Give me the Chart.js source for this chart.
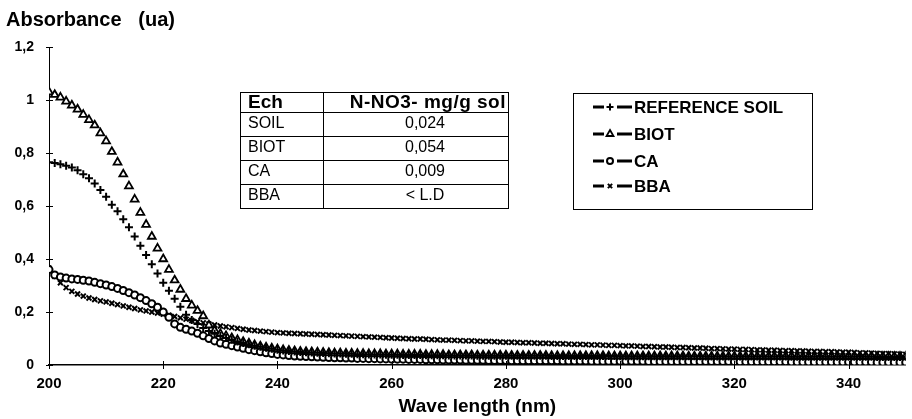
<!DOCTYPE html>
<html>
<head>
<meta charset="utf-8">
<script src="https://cdn.jsdelivr.net/npm/chart.js@4/dist/chart.umd.min.js"></script>
<style>
  html, body { margin: 0; padding: 0; background: #fff; }
</style>
</head>
<body>
<canvas id="chart" width="912" height="419"></canvas>
<script>
// wave length axis (nm), one reading per nm
var waveStart = 200;
var waveEnd = 350;
var waveStep = 20;
var absMax = 1.2;
var absStep = 0.2;

var seriesNames = ['REFERENCE SOIL', 'BIOT', 'CA', 'BBA'];

// absorbance readings 200 -> 350 nm
var refSoil = [
    0.765, 0.762, 0.758, 0.752, 0.745, 0.735, 0.72, 0.705, 0.685, 0.66,
    0.635, 0.605, 0.58, 0.55, 0.52, 0.485, 0.45, 0.415, 0.38, 0.345,
    0.31, 0.28, 0.25, 0.22, 0.19, 0.17, 0.155, 0.14, 0.128, 0.118,
    0.109, 0.102, 0.095, 0.089, 0.083, 0.078, 0.073, 0.069, 0.065, 0.061,
    0.058, 0.055, 0.053, 0.051, 0.049, 0.048, 0.047, 0.046, 0.045, 0.044,
    0.043, 0.043, 0.042, 0.042, 0.041, 0.041, 0.04, 0.04, 0.04, 0.039,
    0.039, 0.039, 0.038, 0.038, 0.038, 0.038, 0.037, 0.037, 0.037, 0.037,
    0.036, 0.036, 0.036, 0.036, 0.036, 0.035, 0.035, 0.035, 0.035, 0.035,
    0.035, 0.035, 0.035, 0.035, 0.035, 0.035, 0.035, 0.035, 0.034, 0.034,
    0.034, 0.034, 0.034, 0.034, 0.034, 0.034, 0.034, 0.034, 0.034, 0.034,
    0.033, 0.033, 0.033, 0.033, 0.033, 0.033, 0.033, 0.033, 0.033, 0.033,
    0.033, 0.033, 0.033, 0.033, 0.033, 0.032, 0.032, 0.032, 0.032, 0.032,
    0.032, 0.032, 0.032, 0.032, 0.032, 0.032, 0.032, 0.032, 0.032, 0.032,
    0.031, 0.031, 0.031, 0.031, 0.031, 0.031, 0.031, 0.031, 0.031, 0.031,
    0.031, 0.031, 0.031, 0.031, 0.031, 0.03, 0.03, 0.03, 0.03, 0.03,
    0.03
];
var biot = [
    1.03, 1.02, 1.01, 0.995, 0.98, 0.965, 0.945, 0.925, 0.905, 0.875,
    0.845, 0.805, 0.765, 0.72, 0.675, 0.625, 0.575, 0.53, 0.485, 0.44,
    0.40, 0.36, 0.32, 0.285, 0.25, 0.225, 0.205, 0.185, 0.15, 0.13,
    0.118, 0.11, 0.102, 0.095, 0.088, 0.082, 0.076, 0.071, 0.067, 0.063,
    0.06, 0.057, 0.055, 0.053, 0.051, 0.05, 0.049, 0.048, 0.047, 0.046,
    0.045, 0.045, 0.044, 0.044, 0.043, 0.043, 0.042, 0.042, 0.042, 0.041,
    0.041, 0.041, 0.04, 0.04, 0.04, 0.04, 0.039, 0.039, 0.039, 0.039,
    0.038, 0.038, 0.038, 0.038, 0.038, 0.037, 0.037, 0.037, 0.037, 0.037,
    0.037, 0.036, 0.036, 0.036, 0.036, 0.036, 0.036, 0.036, 0.035, 0.035,
    0.035, 0.035, 0.035, 0.035, 0.035, 0.035, 0.035, 0.035, 0.034, 0.034,
    0.034, 0.034, 0.034, 0.034, 0.034, 0.034, 0.034, 0.034, 0.034, 0.034,
    0.034, 0.034, 0.033, 0.033, 0.033, 0.033, 0.033, 0.033, 0.033, 0.033,
    0.033, 0.033, 0.033, 0.033, 0.033, 0.033, 0.033, 0.033, 0.033, 0.033,
    0.033, 0.033, 0.032, 0.032, 0.032, 0.032, 0.032, 0.032, 0.032, 0.032,
    0.032, 0.032, 0.032, 0.032, 0.032, 0.032, 0.032, 0.032, 0.032, 0.032,
    0.032
];
var ca = [
    0.36, 0.34, 0.332, 0.328, 0.325, 0.323, 0.32, 0.317, 0.312, 0.307,
    0.302, 0.296, 0.289, 0.281, 0.273, 0.264, 0.254, 0.243, 0.231, 0.218,
    0.2, 0.18, 0.155, 0.142, 0.135, 0.128, 0.12, 0.11, 0.1, 0.091,
    0.083, 0.078, 0.073, 0.068, 0.063, 0.058, 0.054, 0.05, 0.046, 0.043,
    0.04, 0.038, 0.036, 0.034, 0.033, 0.032, 0.031, 0.03, 0.029, 0.028,
    0.027, 0.027, 0.026, 0.026, 0.025, 0.025, 0.024, 0.024, 0.023, 0.023,
    0.022, 0.022, 0.022, 0.021, 0.021, 0.021, 0.02, 0.02, 0.02, 0.019,
    0.019, 0.019, 0.019, 0.018, 0.018, 0.018, 0.018, 0.017, 0.017, 0.017,
    0.017, 0.016, 0.016, 0.016, 0.016, 0.016, 0.016, 0.016, 0.016, 0.016,
    0.015, 0.015, 0.015, 0.015, 0.015, 0.014, 0.014, 0.014, 0.014, 0.014,
    0.014, 0.014, 0.014, 0.014, 0.014, 0.013, 0.013, 0.013, 0.013, 0.013,
    0.013, 0.013, 0.013, 0.013, 0.013, 0.013, 0.013, 0.013, 0.013, 0.013,
    0.012, 0.012, 0.012, 0.012, 0.012, 0.012, 0.012, 0.012, 0.012, 0.012,
    0.011, 0.011, 0.011, 0.011, 0.011, 0.011, 0.011, 0.011, 0.011, 0.011,
    0.011, 0.011, 0.011, 0.011, 0.011, 0.01, 0.01, 0.01, 0.01, 0.01,
    0.01
];
var bba = [
    0.365, 0.335, 0.31, 0.292, 0.278, 0.268, 0.26, 0.253, 0.247, 0.242,
    0.238, 0.233, 0.228, 0.223, 0.218, 0.213, 0.208, 0.204, 0.2, 0.196,
    0.192, 0.188, 0.183, 0.178, 0.173, 0.168, 0.163, 0.159, 0.155, 0.151,
    0.147, 0.144, 0.141, 0.138, 0.135, 0.132, 0.13, 0.128, 0.126, 0.124,
    0.122, 0.121, 0.12, 0.119, 0.118, 0.117, 0.116, 0.115, 0.114, 0.113,
    0.112, 0.111, 0.11, 0.109, 0.108, 0.107, 0.106, 0.105, 0.104, 0.103,
    0.102, 0.101, 0.1, 0.099, 0.098, 0.098, 0.097, 0.096, 0.095, 0.094,
    0.094, 0.093, 0.092, 0.091, 0.091, 0.09, 0.089, 0.089, 0.088, 0.087,
    0.086, 0.086, 0.085, 0.084, 0.084, 0.083, 0.082, 0.082, 0.081, 0.08,
    0.08, 0.079, 0.078, 0.078, 0.077, 0.076, 0.076, 0.075, 0.074, 0.074,
    0.073, 0.072, 0.072, 0.071, 0.07, 0.07, 0.069, 0.068, 0.068, 0.067,
    0.066, 0.066, 0.065, 0.064, 0.064, 0.063, 0.062, 0.062, 0.061, 0.06,
    0.06, 0.059, 0.059, 0.058, 0.057, 0.057, 0.056, 0.056, 0.055, 0.054,
    0.054, 0.053, 0.053, 0.052, 0.051, 0.051, 0.05, 0.05, 0.049, 0.048,
    0.048, 0.047, 0.046, 0.046, 0.045, 0.044, 0.043, 0.043, 0.042, 0.041,
    0.04
];

// inset table
var tableHeader = ['Ech', 'N-NO3- mg/g sol'];
var tableSamples = ['SOIL', 'BIOT', 'CA', 'BBA'];
var tableValues = ['0,024', '0,054', '0,009', '< L.D'];

var FONT = '"Liberation Sans", Arial, sans-serif';

function toPoints(values) {
    var pts = [];
    for (var i = 0; i < values.length; i++) {
        pts.push({ x: waveStart + i, y: values[i] });
    }
    return pts;
}

function commaNum(v) {
    return String(Math.round(v * 10) / 10).replace('.', ',');
}

var markers = [
    { pointStyle: 'cross', radius: 4, borderWidth: 2, backgroundColor: '#000' },
    { pointStyle: 'triangle', radius: 4.5, borderWidth: 1.8, backgroundColor: '#fff' },
    { pointStyle: 'circle', radius: 3.5, borderWidth: 2, backgroundColor: '#fff' },
    { pointStyle: 'crossRot', radius: 3.5, borderWidth: 2, backgroundColor: '#000' }
];
var seriesValues = [refSoil, biot, ca, bba];

var datasets = seriesNames.map(function (name, i) {
    return {
        label: name,
        data: toPoints(seriesValues[i]),
        showLine: false,
        pointStyle: markers[i].pointStyle,
        pointRadius: markers[i].radius,
        pointBorderWidth: markers[i].borderWidth,
        pointBackgroundColor: markers[i].backgroundColor,
        pointBorderColor: '#000'
    };
});

var extras = {
    id: 'extras',
    afterDraw: function (chart) {
        var ctx = chart.ctx;
        var xs = chart.scales.x, ys = chart.scales.y;
        ctx.save();
        ctx.strokeStyle = '#000';
        ctx.fillStyle = '#000';
        ctx.lineWidth = 1;

        // tick marks crossing the axes
        ctx.beginPath();
        xs.ticks.forEach(function (t) {
            var px = Math.round(xs.getPixelForValue(t.value)) + 0.5;
            ctx.moveTo(px, ys.bottom - 4);
            ctx.lineTo(px, ys.bottom + 4);
        });
        ys.ticks.forEach(function (t) {
            var py = Math.round(ys.getPixelForValue(t.value)) + 0.5;
            ctx.moveTo(xs.left - 3, py);
            ctx.lineTo(xs.left + 4, py);
        });
        ctx.stroke();

        // axis titles
        ctx.font = 'bold 20px ' + FONT;
        ctx.textBaseline = 'middle';
        ctx.textAlign = 'left';
        ctx.fillText('Absorbance   (ua)', 6, 20);
        ctx.font = 'bold 19px ' + FONT;
        ctx.textAlign = 'center';
        ctx.fillText('Wave length (nm)', (xs.left + xs.right) / 2, 407);

        // table
        var tl = 240, tr = 508, tsep = 323, tt = 92, hh = 20, rh = 24;
        var tb = tt + hh + rh * tableSamples.length;
        ctx.lineWidth = 1;
        ctx.strokeRect(tl + 0.5, tt + 0.5, tr - tl, tb - tt);
        ctx.beginPath();
        ctx.moveTo(tsep + 0.5, tt);
        ctx.lineTo(tsep + 0.5, tb);
        for (var r = 0; r < tableSamples.length; r++) {
            var ly = tt + hh + rh * r + 0.5;
            ctx.moveTo(tl, ly);
            ctx.lineTo(tr, ly);
        }
        ctx.stroke();
        ctx.font = 'bold 19px ' + FONT;
        ctx.textAlign = 'left';
        ctx.fillText(tableHeader[0], tl + 8, tt + hh / 2 + 1);
        ctx.letterSpacing = '0.5px';
        ctx.textAlign = 'right';
        ctx.fillText(tableHeader[1], tr - 2, tt + hh / 2 + 1);
        ctx.letterSpacing = '0px';
        ctx.font = '16px ' + FONT;
        for (var k = 0; k < tableSamples.length; k++) {
            var cy = tt + hh + rh * k + rh / 2;
            ctx.textAlign = 'left';
            ctx.fillText(tableSamples[k], tl + 8, cy);
            ctx.textAlign = 'center';
            ctx.fillText(tableValues[k], 425, cy);
        }

        // legend
        var lx = 573, ly0 = 93, lw = 239, lhgt = 116;
        ctx.strokeRect(lx + 0.5, ly0 + 0.5, lw, lhgt);
        var rows = [107, 134, 161, 186];
        ctx.font = 'bold 17px ' + FONT;
        ctx.textAlign = 'left';
        chart.data.datasets.forEach(function (ds, i) {
            var y = rows[i];
            ctx.lineWidth = 3;
            ctx.beginPath();
            ctx.moveTo(593, y);
            ctx.lineTo(604, y);
            ctx.moveTo(617, y);
            ctx.lineTo(632, y);
            ctx.stroke();
            ctx.lineWidth = ds.pointBorderWidth;
            ctx.fillStyle = ds.pointBackgroundColor;
            Chart.helpers.drawPoint(ctx, {
                pointStyle: ds.pointStyle,
                radius: ds.pointRadius - 0.5,
                rotation: 0,
                borderWidth: ds.pointBorderWidth
            }, 610, y);
            ctx.fillStyle = '#000';
            ctx.fillText(ds.label, 634, y + 1);
        });
        ctx.restore();
    }
};

var chart = new Chart(document.getElementById('chart').getContext('2d'), {
    type: 'scatter',
    data: { datasets: datasets },
    options: {
        responsive: false,
        animation: false,
        layout: { padding: { top: 47, right: 2, left: 0, bottom: 0 } },
        plugins: {
            legend: { display: false },
            tooltip: { enabled: false }
        },
        scales: {
            x: {
                type: 'linear',
                min: waveStart,
                max: waveEnd,
                afterFit: function (s) { s.height = 54; },
                border: { color: '#000', width: 1.5 },
                grid: { display: false, drawTicks: false },
                ticks: {
                    stepSize: waveStep,
                    includeBounds: false,
                    padding: 10,
                    maxRotation: 0,
                    autoSkip: false,
                    color: '#000',
                    font: { family: FONT, size: 15, weight: 'bold' }
                }
            },
            y: {
                min: 0,
                max: absMax,
                afterFit: function (s) { s.width = 49; },
                border: { color: '#000', width: 1 },
                grid: { display: false, drawTicks: false },
                ticks: {
                    stepSize: absStep,
                    padding: 15,
                    color: '#000',
                    font: { family: FONT, size: 14, weight: 'bold' },
                    callback: function (v) { return commaNum(v); }
                }
            }
        }
    },
    plugins: [extras]
});
</script>
</body>
</html>
